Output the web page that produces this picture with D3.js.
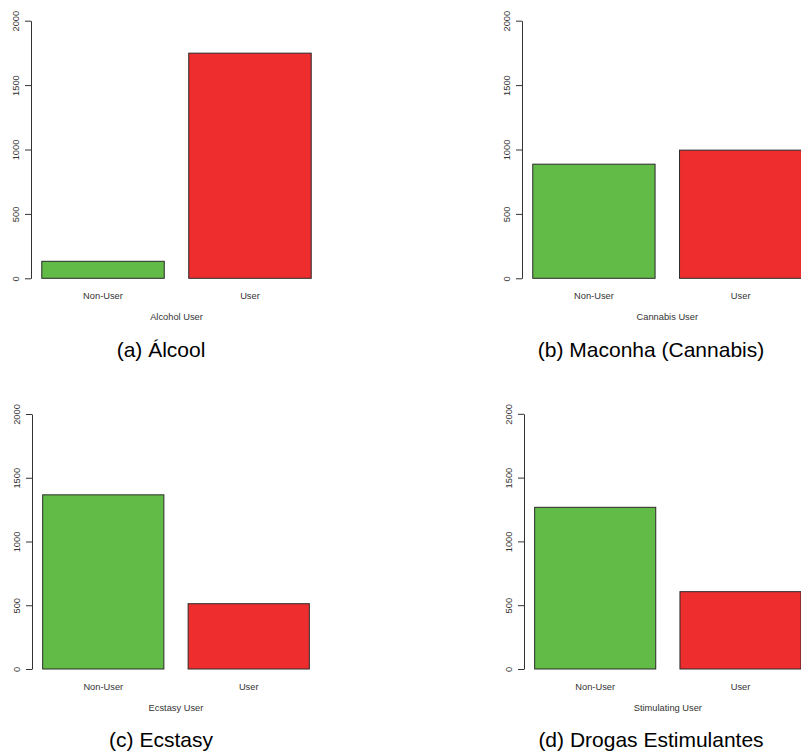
<!DOCTYPE html>
<html>
<head>
<meta charset="utf-8">
<script src="https://cdnjs.cloudflare.com/ajax/libs/d3/7.8.5/d3.min.js"></script>
<style>
  html, body { margin: 0; padding: 0; background: #fff; }
  svg { display: block; }
  text { font-family: "Liberation Sans", Arial, Helvetica, sans-serif; }
</style>
</head>
<body>
<svg id="fig" width="801" height="752"></svg>
<script>
// Categories shared by every panel
const categories = ["Non-User", "User"];

// Counts per drug
const alcoholCounts   = [132, 1748];
const cannabisCounts  = [886, 995];
const ecstasyCounts   = [1366, 512];
const stimulantCounts = [1267, 606];

// Axis ticks and titles
const yTicks = [0, 500, 1000, 1500, 2000];
const xTitles = ["Alcohol User", "Cannabis User", "Ecstasy User", "Stimulating User"];
const captions = ["(a) Álcool", "(b) Maconha (Cannabis)", "(c) Ecstasy", "(d) Drogas Estimulantes"];

const barColors = ["#62bb47", "#ee2e2e"];

// Panel frames: axis x, plot right edge, y of 0 and y of 2000, caption centre / baseline
const panels = [
  { values: alcoholCounts,   left: 31,  right: 322,   y0: 278.3, yTop: 20.7,  capX: 161, capY: 357 },
  { values: cannabisCounts,  left: 522, right: 812.6, y0: 278.3, yTop: 20.7,  capX: 651, capY: 357 },
  { values: ecstasyCounts,   left: 32,  right: 320,   y0: 669,   yTop: 414,   capX: 161, capY: 747 },
  { values: stimulantCounts, left: 524, right: 811.7, y0: 669,   yTop: 413.8, capX: 651, capY: 747 }
];

const svg = d3.select("#fig");
svg.append("rect").attr("width", 801).attr("height", 752).attr("fill", "#fff");

panels.forEach((p, i) => {
  const g = svg.append("g");

  // barplot layout: bars of width 1 separated by 0.2, plot range padded by 4%
  const x = d3.scaleBand()
    .domain(categories)
    .range([p.left, p.right])
    .paddingInner(0.2 / 1.2)
    .paddingOuter(0.088 / 1.2);

  const y = d3.scaleLinear().domain([0, 2000]).range([p.y0, p.yTop]);

  g.selectAll("rect.bar")
    .data(categories.map((c, k) => ({ cat: c, v: p.values[k], k })))
    .join("rect")
    .attr("class", "bar")
    .attr("x", d => x(d.cat))
    .attr("width", x.bandwidth())
    .attr("y", d => y(d.v))
    .attr("height", d => y(0) - y(d.v))
    .attr("fill", d => barColors[d.k])
    .attr("stroke", "#2a2a2a")
    .attr("stroke-width", 1);

  // y axis with labels rotated parallel to the axis
  const ax = g.append("g")
    .attr("transform", `translate(${p.left},0)`)
    .call(d3.axisLeft(y).tickValues(yTicks).tickSize(6).tickSizeOuter(0).tickFormat(d3.format("d")));
  ax.select(".domain").attr("stroke", "#333").attr("stroke-width", 1);
  ax.selectAll(".tick line").attr("stroke", "#333");
  ax.selectAll(".tick text")
    .attr("x", null).attr("dy", null)
    .attr("transform", "translate(-12.5,0) rotate(-90)")
    .attr("text-anchor", "middle")
    .attr("font-size", 9.3)
    .attr("fill", "#333");

  // category labels
  g.selectAll("text.cat")
    .data(categories)
    .join("text")
    .attr("class", "cat")
    .attr("x", d => x(d) + x.bandwidth() / 2)
    .attr("y", p.y0 + 20.5)
    .attr("text-anchor", "middle")
    .attr("font-size", 9.3)
    .attr("fill", "#333")
    .text(d => d);

  // axis title
  g.append("text")
    .attr("x", (p.left + p.right) / 2)
    .attr("y", p.y0 + 41.5)
    .attr("text-anchor", "middle")
    .attr("font-size", 9.3)
    .attr("fill", "#333")
    .text(xTitles[i]);

  // subfigure caption
  svg.append("text")
    .attr("x", p.capX)
    .attr("y", p.capY)
    .attr("text-anchor", "middle")
    .attr("font-size", 21)
    .attr("fill", "#000")
    .text(captions[i]);
});
</script>
</body>
</html>
